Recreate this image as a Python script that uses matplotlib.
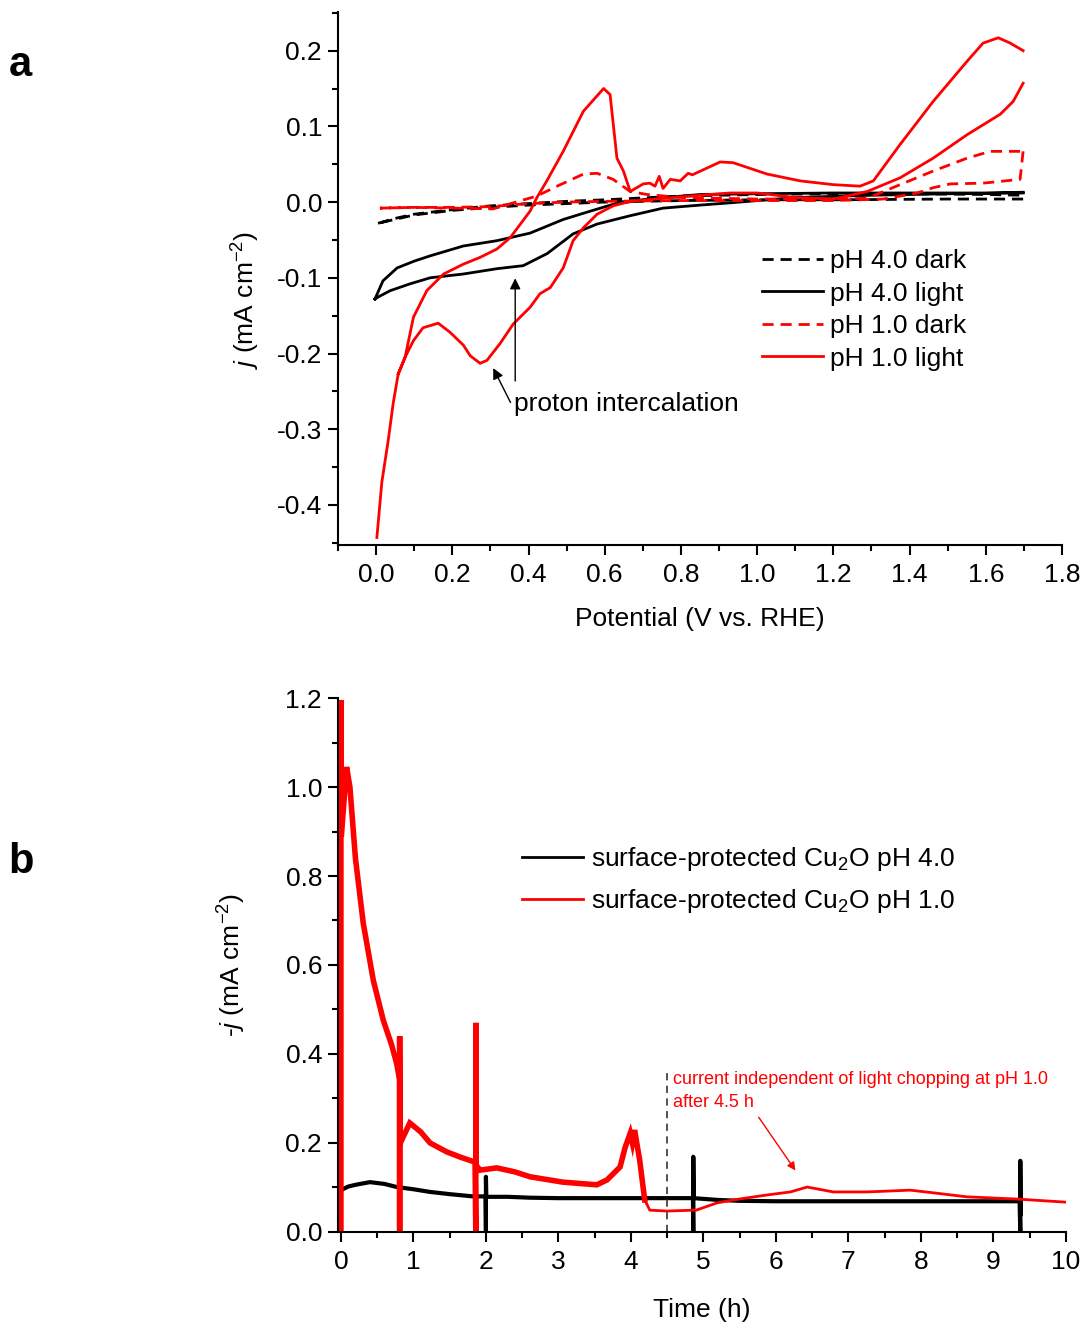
import numpy as np
import matplotlib
matplotlib.use("Agg")
import matplotlib.pyplot as plt
from matplotlib.ticker import MultipleLocator

plt.rcParams['font.family'] = ['Liberation Sans', 'DejaVu Sans']
plt.rcParams['mathtext.fontset'] = 'custom'
plt.rcParams['mathtext.rm'] = 'Liberation Sans'
plt.rcParams['mathtext.it'] = 'Liberation Sans:italic'
plt.rcParams['font.size'] = 19

# ---- panel a: cyclic voltammograms (potential V vs RHE, j mA cm-2)
ph1_light_fwd_v = [0.002, 0.015, 0.032, 0.045, 0.058, 0.076, 0.098, 0.133, 0.177, 0.229, 0.273, 0.317,
                   0.352, 0.404, 0.422, 0.448, 0.491, 0.544, 0.597, 0.614, 0.632, 0.649, 0.667, 0.701,
                   0.718, 0.732, 0.743, 0.753, 0.772, 0.798, 0.819, 0.83, 0.903, 0.937, 1.026, 1.113,
                   1.2, 1.27, 1.305, 1.375, 1.462, 1.551, 1.593, 1.633, 1.664, 1.698]
ph1_light_fwd_j = [-0.443, -0.37, -0.314, -0.265, -0.227, -0.205, -0.152, -0.117, -0.095, -0.082, -0.073, -0.062,
                   -0.047, -0.012, 0.006, 0.028, 0.067, 0.12, 0.150, 0.142, 0.058, 0.041, 0.014, 0.024,
                   0.025, 0.021, 0.034, 0.018, 0.030, 0.028, 0.038, 0.036, 0.053, 0.052, 0.037, 0.028,
                   0.023, 0.021, 0.028, 0.076, 0.133, 0.186, 0.21, 0.217, 0.21, 0.2]
ph1_light_rev_v = [1.698, 1.672, 1.638, 1.551, 1.462, 1.375, 1.289, 1.2, 1.1, 1.0, 0.929, 0.85, 0.753,
                   0.667, 0.622, 0.58, 0.544, 0.517, 0.491, 0.457, 0.43, 0.404, 0.36, 0.325, 0.291,
                   0.273, 0.247, 0.229, 0.194, 0.163, 0.123, 0.098, 0.076, 0.058]
ph1_light_rev_j = [0.157, 0.133, 0.116, 0.089, 0.058, 0.032, 0.014, 0.004, 0.006, 0.012, 0.012, 0.009, 0.005,
                   0.001, -0.005, -0.016, -0.034, -0.051, -0.087, -0.113, -0.121, -0.139, -0.161, -0.187, -0.209,
                   -0.213, -0.203, -0.189, -0.172, -0.160, -0.166, -0.183, -0.205, -0.227]

ph1_dark_fwd_v = [0.01, 0.1, 0.2, 0.307, 0.36, 0.422, 0.475, 0.544, 0.58, 0.622, 0.667, 0.711, 0.8,
                  1.0, 1.2, 1.289, 1.375, 1.462, 1.551, 1.612, 1.698]
ph1_dark_fwd_j = [-0.008, -0.007, -0.008, -0.009, -0.001, 0.008, 0.021, 0.037, 0.038, 0.03, 0.014, 0.010, 0.006,
                  0.004, 0.004, 0.005, 0.023, 0.041, 0.058, 0.067, 0.067]
ph1_dark_rev_v = [1.698, 1.69, 1.593, 1.507, 1.462, 1.42, 1.331, 1.2, 1.0, 0.8, 0.6, 0.5, 0.4, 0.3, 0.2, 0.1, 0.01]
ph1_dark_rev_j = [0.067, 0.030, 0.025, 0.024, 0.019, 0.012, 0.004, 0.002, 0.002, 0.002, 0.001, 0.0, -0.002,
                  -0.006, -0.007, -0.007, -0.008]

ph4_dark_fwd_v = [0.005, 0.055, 0.1, 0.2, 0.3, 0.4, 0.5, 0.6, 0.8, 1.0, 1.2, 1.4, 1.6, 1.698]
ph4_dark_fwd_j = [-0.028, -0.021, -0.016, -0.01, -0.005, -0.002, 0.001, 0.003, 0.008, 0.010, 0.011, 0.011, 0.010, 0.009]
ph4_dark_rev_v = [1.698, 1.5, 1.2, 1.0, 0.8, 0.6, 0.4, 0.3, 0.2, 0.1, 0.005]
ph4_dark_rev_j = [0.004, 0.004, 0.003, 0.003, 0.002, 0.0, -0.004, -0.007, -0.011, -0.017, -0.028]

ph4_light_fwd_v = [-0.003, 0.018, 0.055, 0.1, 0.142, 0.229, 0.317, 0.404, 0.491, 0.562, 0.622, 0.711, 0.85,
                   1.0, 1.2, 1.4, 1.6, 1.698]
ph4_light_fwd_j = [-0.128, -0.104, -0.087, -0.078, -0.071, -0.058, -0.051, -0.041, -0.023, -0.012, -0.003, 0.004, 0.010,
                   0.011, 0.012, 0.012, 0.012, 0.013]
ph4_light_rev_v = [1.698, 1.5, 1.3, 1.1, 0.929, 0.85, 0.753, 0.667, 0.58, 0.517, 0.449, 0.386, 0.317, 0.229,
                   0.142, 0.089, 0.037, 0.003, -0.003]
ph4_light_rev_j = [0.012, 0.011, 0.009, 0.006, -0.001, -0.004, -0.008, -0.018, -0.029, -0.042, -0.068, -0.084, -0.088,
                   -0.095, -0.1, -0.108, -0.117, -0.126, -0.128]

# ---- panel b: chronoamperometry (time h, -j mA cm-2)
ph4_t = [0.0, 0.1, 0.2, 0.4, 0.6, 0.77, 1.0, 1.23, 1.5, 1.82, 1.995, 2.0, 2.0, 2.005, 2.3, 2.61, 3.0, 3.5,
         4.0, 4.5, 4.855, 4.86, 4.86, 4.865, 5.2, 5.5, 6.0, 7.0, 8.0, 9.0, 9.36, 9.37, 9.37, 9.375]
ph4_j = [0.094, 0.102, 0.106, 0.112, 0.108, 0.101, 0.096, 0.09, 0.085, 0.08, 0.08, 0.0, 0.124, 0.079, 0.079, 0.077,
         0.076, 0.076, 0.076, 0.076, 0.076, 0.0, 0.169, 0.076, 0.072, 0.070, 0.069, 0.069, 0.069, 0.069, 0.069,
         0.0, 0.16, 0.04]

ph1_t = [0.0, 0.0, 0.005, 0.078, 0.124, 0.2, 0.308, 0.446, 0.584, 0.7, 0.768, 0.81, 0.81, 0.81, 0.815, 0.84,
         0.95, 1.1, 1.23, 1.46, 1.65, 1.85, 1.86, 1.86, 1.865, 1.92, 2.15, 2.4, 2.61, 3.06, 3.53, 3.67, 3.85,
         3.92, 3.99, 4.02, 4.05, 4.12, 4.19]
ph1_j = [0.0, 1.195, 0.888, 1.045, 1.0, 0.84, 0.694, 0.566, 0.476, 0.42, 0.379, 0.342, 0.0, 0.44, 0.22, 0.207,
         0.245, 0.225, 0.2, 0.18, 0.168, 0.157, 0.0, 0.47, 0.15, 0.139, 0.144, 0.135, 0.124, 0.112, 0.106, 0.117,
         0.146, 0.19, 0.222, 0.2, 0.229, 0.162, 0.072]
ph1_late_t = [4.19, 4.26, 4.5, 4.86, 4.9, 5.18, 5.41, 5.87, 6.2, 6.43, 6.79, 7.26, 7.85, 8.17, 8.63, 9.32, 10.0]
ph1_late_j = [0.072, 0.049, 0.047, 0.049, 0.049, 0.065, 0.072, 0.083, 0.09, 0.101, 0.09, 0.09, 0.094, 0.088,
              0.079, 0.074, 0.067]


def loop(fv, fj, rv, rj):
    # join forward and reverse sweep, with a break at the vertex
    return fv + [np.nan] + rv, fj + [np.nan] + rj


def style(ax):
    for s in ['top', 'right']:
        ax.spines[s].set_visible(False)
    for s in ['left', 'bottom']:
        ax.spines[s].set_linewidth(1.5)
    ax.tick_params(which='major', direction='out', length=7.5, width=1.5, pad=4, labelsize=19)
    ax.tick_params(which='minor', direction='out', length=4, width=1.5)
    ax.tick_params(axis='x', which='major', pad=5.5)


fig = plt.figure(figsize=(10.82, 13.22), dpi=100)
ax1 = fig.add_axes([0.3124, 0.5877, 0.6691, 0.4032])
ax2 = fig.add_axes([0.3124, 0.0681, 0.6728, 0.4039])

dash = (4, 2.5)
v, j = loop(ph4_dark_fwd_v, ph4_dark_fwd_j, ph4_dark_rev_v, ph4_dark_rev_j)
ax1.plot(v, j, color='black', lw=2, dashes=dash, label='pH 4.0 dark')
v, j = loop(ph4_light_fwd_v, ph4_light_fwd_j, ph4_light_rev_v, ph4_light_rev_j)
ax1.plot(v, j, color='black', lw=2, label='pH 4.0 light')
v, j = loop(ph1_dark_fwd_v, ph1_dark_fwd_j, ph1_dark_rev_v, ph1_dark_rev_j)
ax1.plot(v, j, color='red', lw=2, dashes=dash, label='pH 1.0 dark')
v, j = loop(ph1_light_fwd_v, ph1_light_fwd_j, ph1_light_rev_v, ph1_light_rev_j)
ax1.plot(v, j, color='red', lw=2, label='pH 1.0 light')

ax1.set_xlim(-0.1, 1.8)
ax1.set_ylim(-0.453, 0.251)
ax1.xaxis.set_major_locator(MultipleLocator(0.2))
ax1.xaxis.set_minor_locator(MultipleLocator(0.1))
ax1.yaxis.set_major_locator(MultipleLocator(0.1))
ax1.yaxis.set_minor_locator(MultipleLocator(0.05))
ax1.xaxis.set_major_formatter(plt.FuncFormatter(lambda x, p: '%.1f' % x))
ax1.yaxis.set_major_formatter(plt.FuncFormatter(lambda x, p: '%.1f' % x if abs(x) > 1e-9 else '0.0'))
style(ax1)
ax1.set_xlabel('Potential (V vs. RHE)', fontsize=19, labelpad=14)
ax1.set_ylabel(r'$j$ (mA cm$^{-2}$)', fontsize=19)
ax1.yaxis.set_label_coords(-0.105, 0.46)

ax1.annotate('', xy=(0.365, -0.097), xytext=(0.365, -0.24),
             arrowprops=dict(arrowstyle='-|>', color='black', lw=1, mutation_scale=16))
ax1.annotate('', xy=(0.304, -0.216), xytext=(0.356, -0.268),
             arrowprops=dict(arrowstyle='-|>', color='black', lw=1, mutation_scale=16))
ax1.text(0.362, -0.267, 'proton intercalation', fontsize=19, va='center', ha='left')

ax1.legend(loc='upper left', bbox_to_anchor=(0.586, 0.555), frameon=False, borderpad=0,
           borderaxespad=0, handlelength=2.3, handletextpad=0.25, labelspacing=0.32, fontsize=19)

# panel b
ax2.plot(ph4_t, ph4_j, color='black', lw=3, label=r'surface-protected Cu$_2$O pH 4.0')
ax2.plot(ph1_t, ph1_j, color='red', lw=4, solid_joinstyle='miter')
ax2.plot(ph1_late_t, ph1_late_j, color='red', lw=2, label=r'surface-protected Cu$_2$O pH 1.0')
ax2.plot([4.5, 4.5], [0, 0.368], color='#444444', lw=1.3, dashes=(4, 3))

ax2.set_xlim(-0.04, 10)
ax2.set_ylim(0, 1.2)
ax2.xaxis.set_major_locator(MultipleLocator(1))
ax2.xaxis.set_minor_locator(MultipleLocator(0.5))
ax2.yaxis.set_major_locator(MultipleLocator(0.2))
ax2.yaxis.set_minor_locator(MultipleLocator(0.1))
ax2.yaxis.set_major_formatter(plt.FuncFormatter(lambda x, p: '%.1f' % x))
style(ax2)
ax2.set_xlabel('Time (h)', fontsize=19, labelpad=17)
ax2.set_ylabel(r'-$j$ (mA cm$^{-2}$)', fontsize=19)
ax2.yaxis.set_label_coords(-0.123, 0.5)

ax2.text(4.58, 0.362, 'current independent of light chopping at pH 1.0\nafter 4.5 h',
         color='red', fontsize=13, va='top', ha='left', linespacing=1.45)
ax2.annotate('', xy=(6.29, 0.133), xytext=(5.74, 0.263),
             arrowprops=dict(arrowstyle='-|>', color='red', lw=1, mutation_scale=12))

leg = ax2.legend(loc='upper left', bbox_to_anchor=(0.253, 0.725), frameon=False, borderpad=0,
                 borderaxespad=0, handlelength=2.3, handletextpad=0.3, labelspacing=0.55, fontsize=19)
for line in leg.get_lines():
    line.set_linewidth(2)

fig.text(0.008, 0.951, 'a', fontsize=30, fontweight='bold', va='center')
fig.text(0.008, 0.348, 'b', fontsize=30, fontweight='bold', va='center')

fig.savefig('out.png', dpi=100)
